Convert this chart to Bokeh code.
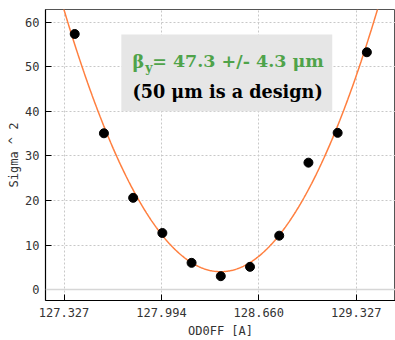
import numpy as np
from bokeh.plotting import figure
from bokeh.models import Range1d, FixedTicker, PrintfTickFormatter, BoxAnnotation, Label, Span
from bokeh.embed import file_html
from bokeh.resources import INLINE

# ---- data ----
od0ff = [127.4, 127.6, 127.8, 128.0, 128.2, 128.4, 128.6, 128.8, 129.0, 129.2, 129.4]
sigma2 = [57.4, 35.1, 20.6, 12.7, 6.0, 3.0, 5.1, 12.1, 28.5, 35.2, 53.3]
x_ticks = [127.327, 127.994, 128.660, 129.327]
y_ticks = [0, 10, 20, 30, 40, 50, 60]
beta_sym = "β"
beta_sub = "y"
beta_text = "= 47.3 +/- 4.3 μm"
design_text = "(50 μm is a design)"

# quadratic fit of sigma^2 vs current
coef = np.polyfit(od0ff, sigma2, 2)
xf = np.linspace(127.2, 129.6, 400)
yf = np.polyval(coef, xf)

MONO = "DejaVu Sans Mono"
SERIF = "DejaVu Serif"
GREEN = "#4fa34a"

p = figure(width=395, height=340, output_backend="svg", toolbar_location=None,
           x_range=Range1d(127.2, 129.596), y_range=Range1d(-2.46, 62.9),
           min_border_left=45, min_border_right=0, min_border_top=9, min_border_bottom=39)
p.background_fill_color = "white"
p.border_fill_color = "white"
p.outline_line_color = "#555555"

# grids
for g in (p.xgrid[0], p.ygrid[0]):
    g.grid_line_color = "#c8c8c8"
    g.grid_line_dash = "2 2"
    g.grid_line_width = 1

p.add_layout(Span(location=0, dimension="width", line_color="#d6d6d6", line_width=1.5))

# axes
p.xaxis.ticker = FixedTicker(ticks=x_ticks)
p.xaxis.formatter = PrintfTickFormatter(format="%.3f")
p.yaxis.ticker = FixedTicker(ticks=y_ticks)
p.xaxis.axis_label = "OD0FF [A]"
p.yaxis.axis_label = "Sigma ^ 2"
for ax in (p.xaxis[0], p.yaxis[0]):
    ax.major_tick_in = 6
    ax.major_tick_out = 0
    ax.minor_tick_in = 0
    ax.minor_tick_out = 0
    ax.axis_line_color = "black"
    ax.axis_line_width = 1.2
    ax.major_tick_line_color = "black"
    ax.major_label_text_font = MONO
    ax.major_label_text_font_size = "12px"
    ax.major_label_text_color = "#333333"
    ax.axis_label_text_font = MONO
    ax.axis_label_text_font_size = "12px"
    ax.axis_label_text_font_style = "normal"
    ax.axis_label_text_color = "#333333"
p.xaxis.major_label_standoff = 7
p.xaxis.axis_label_standoff = 4
p.yaxis.major_label_standoff = 6
p.yaxis.axis_label_standoff = 1

# fit curve and data
p.line(xf, yf, line_color="#ff7f3f", line_width=1.5)
p.scatter(od0ff, sigma2, size=9, fill_color="black", line_color="black")

# annotation box
p.add_layout(BoxAnnotation(left=127.719, right=129.163, bottom=40.07, top=57.31,
                           fill_color="#e6e6e6", fill_alpha=1.0, line_color=None))

common = dict(text_font=SERIF, text_font_style="bold", text_baseline="alphabetic",
              text_align="left")
p.add_layout(Label(x=127.795, y=51.27, text=beta_sym, text_color=GREEN,
                   text_font_size="17.7px", **common))
p.add_layout(Label(x=127.883, y=49.9, text=beta_sub, text_color=GREEN,
                   text_font_size="12.5px", **common))
p.add_layout(Label(x=127.93, y=51.27, text=beta_text, text_color=GREEN,
                   text_font_size="17.5px", **common))
p.add_layout(Label(x=127.795, y=44.55, text=design_text, text_color="black",
                   text_font_size="17.6px", **common))

open("out.html", "w").write(file_html(p, INLINE))
